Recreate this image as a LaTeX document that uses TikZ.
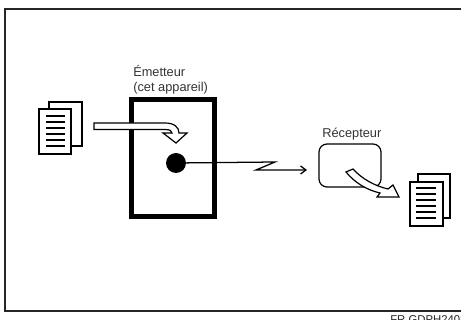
\documentclass[tikz,border=0pt]{standalone}
\usepackage{fontspec}
\setmainfont{Liberation Sans}
\usetikzlibrary{arrows.meta}
\tikzset{
  frameline/.style={line width=1.3pt,draw=black!85},
  sheet/.style={draw=black,fill=white,line width=0.9pt},
  textline/.style={draw=black,line width=0.8pt},
  hollow/.style={draw=black,fill=white,line width=0.9pt,line join=miter},
  lbl/.style={font=\fontsize{9.6}{12}\selectfont,text=black!80,inner sep=0pt,anchor=base west},
  wire/.style={draw=black,line width=0.95pt}
}
\begin{document}
\begin{tikzpicture}[x=0.75pt,y=-0.75pt]
\useasboundingbox (0,0) rectangle (461,320);
% frame
\draw[frameline] (461,9) -- (5,9) -- (5,311) -- (461,311);
% emitter box
\node[draw=black,line width=3.75pt,minimum width=62.25pt,minimum height=88pt,inner sep=0pt] (emit) at (173,158) {};
\node[circle,fill=black,minimum size=15pt,inner sep=0pt] (dot) at (176,163) {};
\node[lbl] (l1) at (133,76.5) {Émetteur};
\node[lbl] (l2) at (133,92) {(cet appareil)};
% receiver
\node[draw=black,line width=0.9pt,rounded corners=6pt,minimum width=46.5pt,minimum height=32.25pt,inner sep=0pt] (recv) at (350,165.5) {};
\node[lbl] (l3) at (322,138) {Récepteur};
% left documents
\draw[sheet] (49,102) rectangle (82,146);
\draw[sheet] (39,109) rectangle (71,154);
\foreach \yy in {116,122,128,134,140,146} \draw[textline] (46,\yy) -- (65,\yy);
% right documents
\draw[sheet] (418,174) rectangle (450,218);
\draw[sheet] (410,182) rectangle (443,226);
\foreach \yy in {188,194,200,206,212,218} \draw[textline] (416,\yy) -- (436,\yy);
% hollow arrow into emitter
\draw[hollow] (94,123) -- (165,123) .. controls (174,123) and (179,127) .. (179,133)
  -- (187,133) -- (176,143) -- (163,133) -- (172,133)
  .. controls (172,131) and (170,129.5) .. (165,129.5) -- (94,129.5) -- cycle;
% hollow arrow out of receiver
\draw[hollow] (353,169) .. controls (362,179) and (375,186) .. (388,189)
  -- (393,185) -- (399,197) -- (377,197) -- (380,193)
  .. controls (367,190) and (355,183) .. (346,172) -- cycle;
% transmission line
\coordinate (z1) at (275,162);
\coordinate (z2) at (256,170);
\coordinate (recvin) at (307,170);
\draw[wire,-{Straight Barb[length=4pt,width=6pt]},line join=miter] (dot.center) -- (z1) -- (z2) -- (recvin);
% reference code
\node[font=\fontsize{8.5}{10}\selectfont,inner sep=0pt,anchor=base west,text=black!85] (code) at (390,324) {FR GDPH240E};
\end{tikzpicture}
\end{document}
